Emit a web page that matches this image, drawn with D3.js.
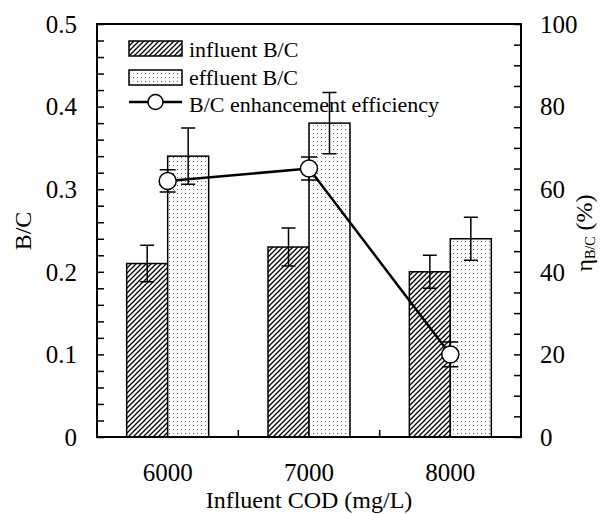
<!DOCTYPE html>
<html>
<head>
<meta charset="utf-8">
<script src="https://cdn.jsdelivr.net/npm/d3@7"></script>
<style>
  body { margin: 0; background: #fff; }
  text { font-family: "Liberation Serif", "Times New Roman", serif; fill: #000; }
</style>
</head>
<body>
<div id="chart"></div>
<script>
// data
var categories = ["6000", "7000", "8000"];
var influentBC = [0.21, 0.23, 0.20];
var influentErr = [0.022, 0.023, 0.020];
var effluentBC = [0.34, 0.38, 0.24];
var effluentErr = [0.034, 0.037, 0.026];
var efficiency = [62, 65, 20];
var efficiencyErr = [2.7, 2.8, 3.0];
var leftTicks = [0, 0.1, 0.2, 0.3, 0.4, 0.5];
var rightTicks = [0, 20, 40, 60, 80, 100];
var legendLabels = ["influent B/C", "effluent B/C", "B/C enhancement efficiency"];

var width = 600
 ,  height = 514
 ,  margin = {left: 97, right: 79, top: 24, bottom: 77};

var svg = d3.select("#chart")
  .append("svg")
    .attr("width", width)
    .attr("height", height);

var defs = svg.append("defs");

// hatch for influent bars
defs.append("pattern")
    .attr("id", "hatch")
    .attr("patternUnits", "userSpaceOnUse")
    .attr("width", 5)
    .attr("height", 5)
  .append("path")
    .attr("d", "M-1,1 l2,-2 M0,5 l5,-5 M4,6 l2,-2")
    .attr("stroke", "#000")
    .attr("stroke-width", 1.3);

// dots for effluent bars
var dots = defs.append("pattern")
    .attr("id", "dots")
    .attr("patternUnits", "userSpaceOnUse")
    .attr("width", 8)
    .attr("height", 8);
dots.append("rect").attr("width", 8).attr("height", 8).attr("fill", "#fff");
[[1, 1], [5, 5]].forEach(function(p) {
  dots.append("rect")
    .attr("x", p[0]).attr("y", p[1])
    .attr("width", 1).attr("height", 1)
    .attr("fill", "#444");
});
[[1, 5], [5, 1]].forEach(function(p) {
  dots.append("rect")
    .attr("x", p[0]).attr("y", p[1])
    .attr("width", 1).attr("height", 1)
    .attr("fill", "#999");
});

var x0 = margin.left
 ,  x1 = width - margin.right
 ,  yTop = margin.top
 ,  yBot = height - margin.bottom;

var x = d3.scaleBand().domain(categories).range([x0, x1]);
var barW = x.bandwidth() * 0.29;
var y = d3.scaleLinear().domain([0, 0.5]).range([yBot, yTop]);
var y2 = d3.scaleLinear().domain([0, 100]).range([yBot, yTop]);

var rows = categories.map(function(c, i) {
  return {cat: c, inf: influentBC[i], infErr: influentErr[i],
          eff: effluentBC[i], effErr: effluentErr[i],
          eta: efficiency[i], etaErr: efficiencyErr[i]};
});

// bars
var g = svg.append("g");
g.selectAll(".inf").data(rows).enter().append("rect")
  .attr("x", function(d) { return x(d.cat) + x.bandwidth() / 2 - barW; })
  .attr("y", function(d) { return y(d.inf); })
  .attr("width", barW)
  .attr("height", function(d) { return yBot - y(d.inf); })
  .attr("fill", "url(#hatch)")
  .attr("stroke", "#000")
  .attr("stroke-width", 1.5);

g.selectAll(".eff").data(rows).enter().append("rect")
  .attr("x", function(d) { return x(d.cat) + x.bandwidth() / 2; })
  .attr("y", function(d) { return y(d.eff); })
  .attr("width", barW)
  .attr("height", function(d) { return yBot - y(d.eff); })
  .attr("fill", "url(#dots)")
  .attr("stroke", "#000")
  .attr("stroke-width", 1.5);

function errorBar(sel, cx, v, e, scale, cap) {
  var top = scale(v + e), bot = scale(v - e);
  sel.append("path")
    .attr("d", "M" + (cx - cap / 2) + "," + top + "h" + cap +
               "M" + cx + "," + top + "V" + bot +
               "M" + (cx - cap / 2) + "," + bot + "h" + cap)
    .attr("stroke", "#000")
    .attr("stroke-width", 1.5)
    .attr("fill", "none");
}

rows.forEach(function(d) {
  var c = x(d.cat) + x.bandwidth() / 2;
  errorBar(g, c - barW / 2, d.inf, d.infErr, y, 14);
  errorBar(g, c + barW / 2, d.eff, d.effErr, y, 14);
});

// efficiency line
var line = d3.line()
  .x(function(d) { return x(d.cat) + x.bandwidth() / 2; })
  .y(function(d) { return y2(d.eta); });

g.append("path")
  .datum(rows)
  .attr("d", line)
  .attr("fill", "none")
  .attr("stroke", "#000")
  .attr("stroke-width", 2.5);

rows.forEach(function(d) {
  errorBar(g, x(d.cat) + x.bandwidth() / 2, d.eta, d.etaErr, y2, 16);
});

g.selectAll(".pt").data(rows).enter().append("circle")
  .attr("cx", function(d) { return x(d.cat) + x.bandwidth() / 2; })
  .attr("cy", function(d) { return y2(d.eta); })
  .attr("r", 8.5)
  .attr("fill", "#fff")
  .attr("stroke", "#000")
  .attr("stroke-width", 1.5);

// frame
svg.append("rect")
  .attr("x", x0).attr("y", yTop)
  .attr("width", x1 - x0).attr("height", yBot - yTop)
  .attr("fill", "none")
  .attr("stroke", "#000")
  .attr("stroke-width", 2);

// left axis, ticks inside
var leftAxis = d3.axisRight(y).tickValues(d3.range(0, 0.5001, 0.02)).tickSize(7).tickFormat("");
svg.append("g").attr("transform", "translate(" + x0 + ",0)").call(leftAxis)
  .call(function(a) { a.select(".domain").remove(); a.selectAll("line").attr("stroke-width", 1.5); });

svg.selectAll(".ylab").data(leftTicks).enter().append("text")
  .attr("x", x0 - 20)
  .attr("y", function(d) { return y(d); })
  .attr("dy", "0.35em")
  .attr("text-anchor", "end")
  .attr("font-size", "25px")
  .text(function(d) { return d === 0 ? "0" : d3.format(".1f")(d); });

// right axis, ticks inside
var rightAxis = d3.axisLeft(y2).tickValues(d3.range(0, 101, 5)).tickSize(7).tickFormat("");
svg.append("g").attr("transform", "translate(" + x1 + ",0)").call(rightAxis)
  .call(function(a) { a.select(".domain").remove(); a.selectAll("line").attr("stroke-width", 1.5); });

svg.selectAll(".y2lab").data(rightTicks).enter().append("text")
  .attr("x", x1 + 19)
  .attr("y", function(d) { return y2(d); })
  .attr("dy", "0.35em")
  .attr("text-anchor", "start")
  .attr("font-size", "25px")
  .text(function(d) { return d; });

// bottom ticks at the category borders
svg.selectAll(".xt").data(categories.slice(1)).enter().append("line")
  .attr("x1", function(d) { return x(d); })
  .attr("x2", function(d) { return x(d); })
  .attr("y1", yBot)
  .attr("y2", yBot - 7)
  .attr("stroke", "#000")
  .attr("stroke-width", 1.5);

svg.selectAll(".xlab").data(categories).enter().append("text")
  .attr("x", function(d) { return x(d) + x.bandwidth() / 2; })
  .attr("y", 481)
  .attr("text-anchor", "middle")
  .attr("font-size", "25px")
  .text(function(d) { return d; });

// axis titles
svg.append("text")
  .attr("transform", "translate(" + ((x0 + x1) / 2) + ",508)")
  .attr("text-anchor", "middle")
  .attr("font-size", "24px")
  .text("Influent COD (mg/L)");

svg.append("text")
  .attr("transform", "translate(31,231) rotate(-90)")
  .attr("text-anchor", "middle")
  .attr("font-size", "24px")
  .text("B/C");

var rt = svg.append("text")
  .attr("transform", "translate(592,233) rotate(-90)")
  .attr("text-anchor", "middle")
  .attr("font-size", "24px");
rt.append("tspan").text("\u03b7");
rt.append("tspan").attr("font-size", "14px").attr("dy", 3).text("B/C");
rt.append("tspan").attr("dy", -3).text(" (%)");

// legend
var leg = svg.append("g");
var lx = 129, lw = 53;
leg.append("rect").attr("x", lx).attr("y", 41).attr("width", lw).attr("height", 15)
  .attr("fill", "url(#hatch)").attr("stroke", "#000").attr("stroke-width", 1.5);
leg.append("rect").attr("x", lx).attr("y", 70).attr("width", lw).attr("height", 15)
  .attr("fill", "url(#dots)").attr("stroke", "#000").attr("stroke-width", 1.5);
leg.append("line").attr("x1", lx).attr("x2", lx + lw).attr("y1", 102).attr("y2", 102)
  .attr("stroke", "#000").attr("stroke-width", 2.5);
leg.append("circle").attr("cx", lx + lw / 2).attr("cy", 102).attr("r", 7.5)
  .attr("fill", "#fff").attr("stroke", "#000").attr("stroke-width", 1.5);

leg.selectAll(".lt").data(legendLabels).enter().append("text")
  .attr("x", 189)
  .attr("y", function(d, i) { return 57 + i * 27.5; })
  .attr("font-size", "22px")
  .text(function(d) { return d; });
</script>
</body>
</html>
